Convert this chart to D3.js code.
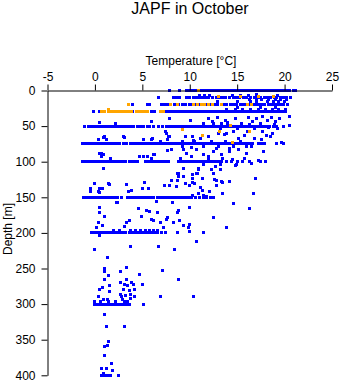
<!DOCTYPE html>
<html>
<head>
<meta charset="utf-8">
<script src="https://cdn.jsdelivr.net/npm/d3@7"></script>
<style>
  html, body { margin: 0; padding: 0; background: #fff; }
  svg { display: block; }
  text { font-family: "Liberation Sans", Arial, Helvetica, sans-serif; fill: #000; }
</style>
</head>
<body>
<svg id="chart" width="341" height="384"></svg>
<script>
// ---------- DATA (temperature °C at depth m) ----------
const titleText = "JAPF in October";
const xLabel = "Temperature [°C]";
const yLabel = "Depth [m]";
const xTicks = [-5, 0, 5, 10, 15, 20, 25];
const yTicks = [0, 50, 100, 150, 200, 250, 300, 350, 400];

// CTD depth bands: temperatures recorded at standard depths (blue)
const temps0m = [7.9, 8.9, 9.7, 10.0, 10.3, 10.6, 10.9, 11.2, 11.5, 11.8, 12.1, 12.4, 12.7, 13.0, 13.3, 13.6, 13.9, 14.2, 14.5, 14.8, 15.1, 15.4, 15.7, 16.0, 16.3, 16.6, 16.9, 17.2, 17.5, 17.8, 18.1, 18.4, 18.7, 19.0, 19.3, 19.6, 19.9, 20.2, 20.5, 20.9, 21.2];
const temps10m = [6.7, 8.3, 8.6, 8.9, 9.7, 10.0, 10.4, 10.7, 11.0, 11.3, 11.7, 12.0, 12.4, 12.8, 13.1, 13.5, 13.8, 14.2, 14.6, 14.9, 15.2, 15.7, 16.0, 16.4, 16.8, 17.1, 17.5, 17.9, 18.2, 18.5, 18.9, 19.2, 19.6, 19.9, 20.2, 20.6];
const temps20m = [4.0, 5.5, 5.8, 7.0, 7.3, 7.6, 7.9, 8.4, 8.8, 9.2, 9.6, 10.0, 10.3, 10.6, 10.9, 11.2, 11.6, 11.9, 12.2, 12.6, 12.9, 13.3, 13.6, 13.9, 14.3, 14.6, 14.9, 15.3, 15.6, 15.9, 16.3, 16.6, 16.9, 17.3, 17.6, 17.9, 18.3, 18.6, 18.9, 19.3, 19.6, 19.9, 20.3];
const temps30m = [-0.2, 0.5, 1.9, 3.8, 4.0, 5.3, 5.5, 6.0, 6.3, 7.2, 7.5, 7.8, 8.1, 8.4, 8.7, 9.0, 9.3, 9.6, 9.9, 10.2, 10.5, 10.8, 11.1, 11.4, 11.7, 12.0, 12.3, 12.6, 12.9, 13.2, 13.5, 13.8, 14.1, 14.4, 14.7, 15.0, 15.3, 15.6, 15.9, 16.2, 16.5, 16.8, 17.1, 17.4, 17.7, 18.0, 18.3, 18.6, 18.9, 19.2, 19.5, 19.8, 20.1];
const temps50m = [-1.05, -0.7, -0.4, -0.1, 0.2, 0.5, 0.8, 1.1, 1.4, 1.7, 2.0, 2.3, 2.6, 2.9, 3.2, 3.5, 3.8, 4.1, 4.5, 4.8, 5.1, 5.5, 5.8, 6.2, 6.7, 7.1, 7.6, 7.9, 8.2, 8.5, 8.8, 9.1, 9.4, 9.7, 10.0, 10.3, 10.6, 10.9, 11.2, 11.5, 11.8, 12.1, 12.4, 12.7, 13.0, 13.3, 13.6, 13.9, 14.2, 14.5, 14.8, 15.1, 15.4, 15.7, 16.0, 16.3, 16.6, 16.9, 17.2, 17.5, 17.8, 18.1, 18.4, 18.8, 19.1, 19.9];
const temps75m = [-1.3, -1.0, -0.7, -0.4, -0.1, 0.2, 0.5, 0.8, 1.1, 1.4, 1.7, 2.0, 2.3, 2.6, 3.0, 3.3, 3.7, 4.0, 4.3, 4.6, 4.9, 5.2, 5.5, 5.8, 6.1, 6.4, 6.7, 7.0, 7.3, 7.6, 7.9, 8.2, 8.5, 8.8, 9.1, 9.4, 9.7, 10.0, 10.3, 10.6, 10.9, 11.2, 11.5, 11.8, 12.1, 12.4, 12.7, 13.0, 13.3, 13.6, 13.9, 14.2, 14.5, 14.8, 15.1, 15.4, 15.7, 16.0, 16.3, 16.6, 17.2, 17.6, 17.9, 19.1, 19.9];
const temps100m = [-1.3, -1.0, -0.7, -0.4, -0.1, 0.2, 0.5, 0.8, 1.1, 1.4, 1.7, 2.0, 2.3, 2.6, 2.9, 3.2, 3.6, 3.9, 4.2, 4.5, 5.3, 5.6, 6.0, 6.3, 6.6, 6.9, 7.2, 7.5, 7.8, 8.8, 9.1, 9.4, 9.7, 10.0, 10.3, 10.6, 10.9, 11.2, 11.5, 11.8, 12.1, 12.4, 12.7, 13.0, 13.4, 13.9, 14.4, 15.0, 15.6, 16.3, 17.5, 18.0];
const temps150m = [-1.2, -0.9, -0.6, -0.3, 0.0, 0.3, 0.6, 0.9, 1.2, 1.5, 1.8, 2.1, 2.4, 2.8, 3.4, 3.8, 4.1, 4.4, 4.7, 5.0, 5.3, 5.6, 5.9, 6.2, 6.6, 6.9, 7.2, 7.5, 7.8, 8.1, 8.4, 8.7, 9.0, 9.3, 9.6, 9.9, 10.2, 10.6, 11.0, 11.4, 11.8, 12.2, 12.5];
const temps200m = [-0.4, -0.1, 0.2, 0.5, 0.8, 1.1, 1.4, 1.7, 2.0, 2.3, 2.6, 2.9, 3.2, 3.6, 3.9, 4.2, 4.5, 4.8, 5.1, 5.4, 5.7, 6.0, 6.3, 6.6, 7.0, 7.4];
const temps300m = [0.0, 0.3, 0.6, 0.9, 1.2, 1.5, 1.8, 2.1, 2.4, 2.7, 3.0, 3.3, 3.6];
const temps400m = [0.7, 1.0, 1.3, 1.6, 2.45];

// other CTD samples [temperature, depth] (blue)
const blueScatter = [
  [11.0, 7], [11.6, 7], [12.1, 7], [14.5, 7], [15.3, 7], [16.2, 7], [17.0, 6], [19.3, 7],
  [16.3, 13], [17.0, 13], [17.6, 13], [18.3, 13], [19.0, 13], [19.6, 13], [20.2, 13],
  [12.9, 16], [15.0, 16], [16.4, 16], [17.0, 16], [18.2, 16], [18.8, 16], [19.4, 16], [20.0, 16],
  [13.9, 26], [14.8, 26], [15.6, 26], [16.4, 26], [17.2, 26], [18.0, 26], [18.7, 26], [19.4, 26], [20.1, 26],
  [15.0, 24], [17.5, 24], [19.0, 24],
  [10.1, 42], [12.0, 40], [12.4, 44], [12.9, 38], [13.8, 42], [14.0, 45], [14.8, 40], [16.2, 38], [16.6, 43],
  [17.0, 40], [17.7, 36], [18.2, 42], [18.6, 38], [19.0, 44], [19.5, 40], [0.45, 44.6], [2.2, 46], [6.0, 43.8],
  [7.9, 39], [20.5, 36], [11.5, 46], [13.3, 47],
  [12.5, 47], [13.2, 53], [14.0, 47], [15.0, 53], [15.5, 46], [16.3, 48], [16.8, 54], [17.5, 47], [18.3, 52],
  [18.9, 48], [19.3, 53], [20.5, 49],
  [0.9, 65.7], [3.1, 65.7], [1.2, 69], [5.1, 69.5], [6.1, 67], [6.9, 71], [7.6, 60], [7.8, 65], [9.5, 65], [10.3, 64],
  [17.6, 69.5], [18.1, 62.5], [19.2, 74], [19.7, 73], [18.7, 61], [16.8, 67], [15.1, 67], [13.9, 60], [13.0, 60],
  [11.95, 65], [11.1, 67], [10.4, 70], [9.25, 72], [7.7, 69.5], [7.4, 58], [7.9, 64], [1.05, 65], [3.0, 65],
  [0.35, 69.5], [5.1, 69.5], [6.0, 69.5], [13.7, 62], [14.6, 57], [15.8, 63], [16.1, 58], [17.7, 57], [18.5, 65],
  [10.5, 72], [11.5, 78], [12.3, 71], [13.0, 79], [13.8, 72], [14.6, 78], [15.3, 71], [16.0, 79], [10.2, 80],
  [12.8, 81], [14.2, 81], [8.1, 83.5], [9.25, 79],
  [9.3, 83.5], [9.65, 88], [10.7, 83.5], [11.4, 89.6], [12.5, 86], [13.35, 90.5], [14.2, 86], [15.1, 83.5],
  [16.0, 88], [17.75, 86], [16.5, 79], [0.5, 88], [0.9, 90.5], [6.15, 90.5], [5.1, 93], [10.2, 92], [12.0, 93],
  [0.7, 88], [0.7, 93], [1.6, 95], [4.7, 93], [5.5, 93], [6.0, 96], [6.3, 90], [0.95, 110], [8.75, 116],
  [7.7, 84.5], [9.0, 95], [9.3, 110], [10.9, 109], [12.7, 107], [14.8, 106], [10.75, 116], [12.5, 117],
  [13.5, 96], [14.5, 97], [15.8, 95], [16.5, 103], [17.2, 98], [11.5, 104], [12.0, 97],
  [14.9, 104.5], [13.2, 104.5], [12.3, 111.5], [10.9, 111.5], [8.8, 116], [16.9, 123],
  [14.2, 128], [13.35, 128], [12.65, 125.6], [16.7, 145], [14.6, 159], [16.35, 166], [13.9, 193],
  [-0.5, 137], [-0.5, 142], [0.0, 131], [0.5, 137], [0.5, 143], [0.85, 138], [1.5, 132], [2.4, 158], [3.3, 132],
  [3.5, 142], [3.9, 140], [5.2, 129], [5.0, 137], [5.6, 137], [6.5, 156], [7.3, 134], [7.9, 134], [8.1, 126],
  [8.2, 158], [8.6, 135], [8.75, 126], [8.85, 121], [9.3, 121], [9.5, 130], [10.0, 134], [10.3, 118], [10.3, 129],
  [1.4, 130], [0.35, 142], [2.3, 158],
  [10.3, 123], [10.8, 116], [11.3, 123], [12.5, 117], [13.2, 111], [12.8, 127], [13.5, 129], [10.5, 130],
  [11.15, 136], [11.35, 141], [12.05, 142], [12.8, 134], [13.5, 144], [11.4, 147], [11.8, 149], [10.9, 145],
  [10.3, 147], [12.5, 178], [10.0, 188], [11.5, 200], [10.7, 212],
  [2.0, 196], [2.6, 196], [3.8, 196], [4.3, 196], [4.8, 196], [5.3, 196], [5.8, 196], [6.2, 196], [6.6, 196],
  [0.5, 165], [0.5, 172], [1.05, 177], [0.35, 186], [0.85, 189], [0.2, 193], [3.35, 186], [3.6, 183], [3.15, 191],
  [4.55, 166], [5.45, 169], [5.8, 170], [4.9, 177], [6.0, 181], [6.2, 182], [6.6, 172], [6.9, 186], [7.2, 193],
  [7.55, 181], [7.7, 178], [8.25, 185], [8.7, 171], [8.8, 168], [8.9, 182], [9.3, 189], [9.85, 193], [10.0, 198],
  [8.7, 200], [10.0, 165], [0.0, 223], [3.75, 219], [6.75, 219], [8.35, 223], [1.35, 235], [0.5, 204],
  [1.0, 249.6], [1.05, 254], [1.4, 260], [1.0, 265], [2.7, 254], [3.3, 249], [4.7, 259], [7.1, 253], [8.85, 266],
  [2.7, 269], [3.3, 266], [3.1, 272], [3.45, 274], [3.9, 270], [4.05, 272], [5.0, 272], [0.8, 276], [0.45, 279],
  [1.5, 274], [1.5, 283], [3.0, 279], [3.6, 281], [4.15, 280], [3.8, 287], [2.75, 287], [4.15, 290], [0.4, 290],
  [1.35, 293], [0.9, 293], [3.7, 291.7], [6.9, 290], [10.4, 290], [0.0, 296], [5.1, 300],
  [2.9, 293], [3.1, 296], [2.8, 290], [3.2, 288], [0.6, 296], [1.4, 296], [2.2, 296], [3.4, 296],
  [1.05, 314], [1.2, 332], [3.1, 332], [1.4, 352.5], [1.3, 358], [1.0, 359.5], [1.0, 372], [1.7, 383],
  [0.65, 391], [1.25, 391], [1.85, 393], [0.9, 397]
];

// bottle samples [temperature, depth] (orange)
const orangeBottle = [
  [10.9, 0],
  [13.0, 9], [15.4, 9], [17.2, 9], [18.8, 9],
  [3.5, 20], [8.0, 20], [8.7, 20], [10.4, 20], [10.8, 20], [11.2, 20], [11.6, 20], [12.0, 20], [12.4, 20],
  [13.35, 20], [16.1, 20], [16.5, 20],
  [1.4, 27], [0.7, 30], [1.0, 30], [1.4, 30], [1.7, 30], [2.1, 30], [2.4, 30], [2.7, 30], [3.0, 30], [3.3, 30],
  [3.6, 30], [3.9, 30], [4.4, 30], [4.7, 30], [5.0, 30], [5.3, 30], [5.5, 30], [6.9, 30], [7.2, 30],
  [9.25, 55], [14.3, 49.5], [16.3, 58], [11.3, 63.5], [13.1, 57], [14.5, 73]
];

// ---------- CHART ----------
const svg = d3.select("#chart");
const x = d3.scaleLinear().domain([-5, 25]).range([47.5, 332]);
const y = d3.scaleLinear().domain([0, 400]).range([90.5, 375.3]);

const bandList = [
  [0, temps0m], [10, temps10m], [20, temps20m], [30, temps30m], [50, temps50m],
  [75, temps75m], [100, temps100m], [150, temps150m], [200, temps200m], [300, temps300m], [400, temps400m]
];
const bluePoints = [];
bandList.forEach(([d, ts]) => ts.forEach(t => bluePoints.push([t, d])));
blueScatter.forEach(p => bluePoints.push(p));

svg.append("text")
  .attr("x", 190).attr("y", 14)
  .attr("text-anchor", "middle")
  .style("font-size", "16px")
  .text(titleText);

svg.append("text")
  .attr("x", 191).attr("y", 64.5)
  .attr("text-anchor", "middle")
  .style("font-size", "12px")
  .text(xLabel);

svg.append("text")
  .attr("transform", "translate(12,229) rotate(-90)")
  .attr("text-anchor", "middle")
  .style("font-size", "12px")
  .text(yLabel);

// points
const pts = svg.append("g").attr("shape-rendering", "crispEdges");
pts.selectAll("rect.blue").data(bluePoints).enter().append("rect")
  .attr("class", "blue")
  .attr("x", d => Math.round(x(d[0]) - 1.5))
  .attr("y", d => Math.round(y(d[1]) - 1.5))
  .attr("width", 3).attr("height", 3)
  .attr("fill", "#0000FF");
pts.selectAll("rect.orange").data(orangeBottle).enter().append("rect")
  .attr("class", "orange")
  .attr("x", d => Math.round(x(d[0]) - 1.5))
  .attr("y", d => Math.round(y(d[1]) - 1.5))
  .attr("width", 3).attr("height", 3)
  .attr("fill", "#FFA500");

// axes (plain hyphen-minus labels as in the reference)
const fmt = d => String(d);
const xAxis = svg.append("g")
  .attr("transform", "translate(0,90.5)")
  .call(d3.axisTop(x).tickValues(xTicks).tickFormat(fmt).tickSize(6).tickSizeOuter(0).tickPadding(4));
const yAxis = svg.append("g")
  .attr("transform", "translate(47.5,0)")
  .call(d3.axisLeft(y).tickValues(yTicks).tickFormat(fmt).tickSize(6).tickSizeOuter(0).tickPadding(6));
[xAxis, yAxis].forEach(g => {
  g.selectAll("text").style("font-size", "12px").attr("fill", "#000")
    .style("font-family", '"Liberation Sans", Arial, sans-serif');
  g.selectAll("line").attr("stroke", "#000");
  g.select(".domain").attr("stroke", "#000");
});
</script>
</body>
</html>
